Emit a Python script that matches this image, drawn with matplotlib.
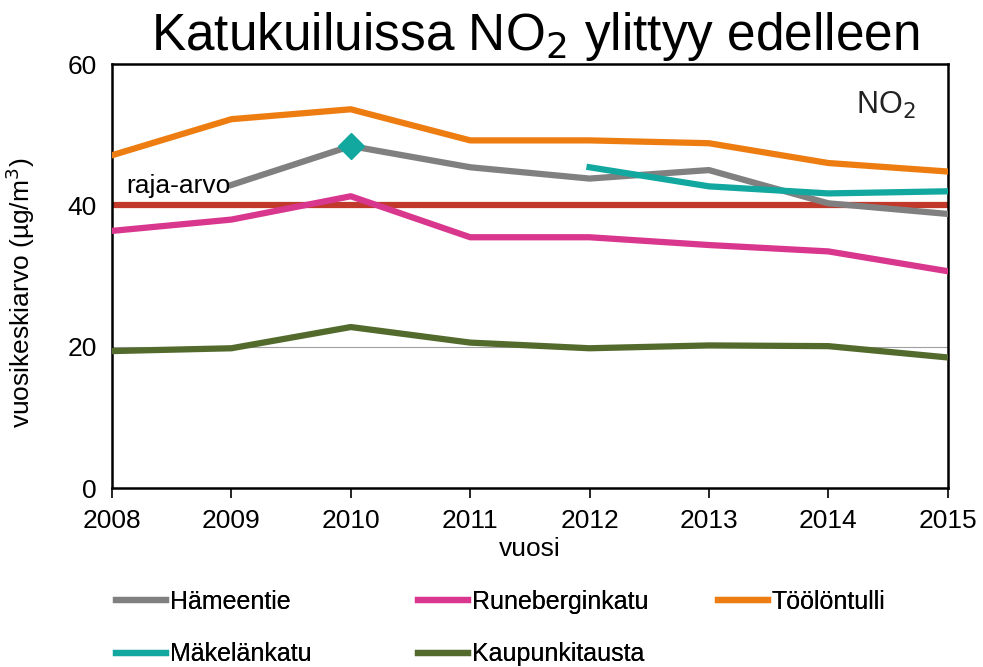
import matplotlib
matplotlib.use('Agg')
import matplotlib.pyplot as plt

plt.rcParams['font.family'] = ['Liberation Sans', 'DejaVu Sans']

# data
years = [2008, 2009, 2010, 2011, 2012, 2013, 2014, 2015]
hameentie_years = [2009, 2010, 2011, 2012, 2013, 2014, 2015]
hameentie = [42.9, 48.4, 45.4, 43.8, 45.0, 40.3, 38.8]
runeberginkatu = [36.4, 38.0, 41.3, 35.5, 35.5, 34.4, 33.5, 30.7]
toolontulli = [47.1, 52.2, 53.6, 49.2, 49.2, 48.8, 46.0, 44.8]
makelankatu_years = [2012, 2013, 2014, 2015]
makelankatu = [45.4, 42.7, 41.7, 42.0]
makelankatu_2010 = 48.4
kaupunkitausta = [19.4, 19.8, 22.8, 20.6, 19.8, 20.2, 20.1, 18.5]
raja_arvo = 40

c_grey = '#808080'
c_pink = '#d9378e'
c_orange = '#ee7d11'
c_teal = '#12a8a0'
c_green = '#526b2d'
c_red = '#c0392b'

fig = plt.figure(figsize=(9.83, 6.67), dpi=100)
ax = fig.add_axes([0.114, 0.268, 0.850, 0.636])

lw = 4.5
ax.axhline(20, color='#a0a0a0', lw=0.8, zorder=1)
ax.axhline(raja_arvo, color=c_red, lw=lw, zorder=2)
l_h, = ax.plot(hameentie_years, hameentie, color=c_grey, lw=lw, label='Hämeentie', zorder=3)
l_r, = ax.plot(years, runeberginkatu, color=c_pink, lw=lw, label='Runeberginkatu', zorder=3)
l_t, = ax.plot(years, toolontulli, color=c_orange, lw=lw, label='Töölöntulli', zorder=3)
l_m, = ax.plot(makelankatu_years, makelankatu, color=c_teal, lw=lw, label='Mäkelänkatu', zorder=3)
ax.plot([2010], [makelankatu_2010], marker='D', color=c_teal, ms=13, ls='none', zorder=4)
l_k, = ax.plot(years, kaupunkitausta, color=c_green, lw=lw, label='Kaupunkitausta', zorder=3)

ax.set_xlim(2008, 2015)
ax.set_ylim(0, 60)
ax.set_xticks(years)
ax.set_yticks([0, 20, 40, 60])
ax.tick_params(axis='x', length=7, width=1.2, labelsize=19, pad=8)
ax.tick_params(axis='y', length=0, labelsize=19, pad=11)
for s in ax.spines.values():
    s.set_linewidth(1.8)

ax.set_xlabel('vuosi', fontsize=19, labelpad=3)
ax.set_ylabel('vuosikeskiarvo (µg/m$^3$)', fontsize=19)
ax.yaxis.set_label_coords(-0.09, 0.46)

ax.text(2008.12, 42.8, 'raja-arvo', fontsize=19, ha='left', va='center')
ax.text(0.962, 0.94, 'NO$_2$', transform=ax.transAxes, fontsize=22,
        ha='right', va='top', color='#222222')

fig.text(0.545, 0.945, 'Katukuiluissa NO$_2$ ylittyy edelleen', fontsize=37,
         ha='center', va='center')

# one legend per column, placed like the reference
cols = [([l_h, l_m], 0.118), ([l_r, l_k], 0.425), ([l_t], 0.730)]
for hs, x0 in cols:
    leg = fig.legend(handles=hs, loc='upper left', bbox_to_anchor=(x0, 0.116),
                     frameon=False, fontsize=18, handlelength=2.0,
                     handletextpad=0.15, labelspacing=1.15, borderaxespad=0,
                     borderpad=0)
    fig.add_artist(leg)

fig.savefig('out.png', dpi=100)
